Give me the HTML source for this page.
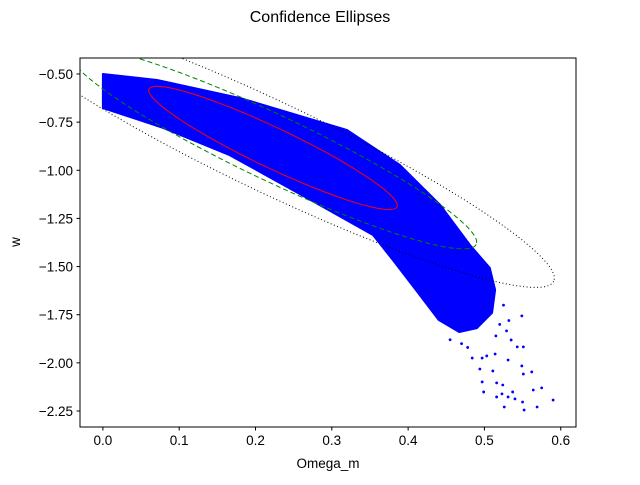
<!DOCTYPE html>
<html><head><meta charset="utf-8"><style>
html,body{margin:0;padding:0;background:#fff;}
svg text{font-family:"Liberation Sans","DejaVu Sans",sans-serif;}
</style></head><body>
<svg id="chart" width="640" height="480" xmlns="http://www.w3.org/2000/svg">
<defs><clipPath id="clip"><rect x="80" y="58" width="496" height="369"/></clipPath></defs>
<text x="320" y="22" text-anchor="middle" font-size="16">Confidence Ellipses</text>
<g id="plot" clip-path="url(#clip)"></g>
<rect x="80" y="58" width="496" height="369" fill="none" stroke="#000" stroke-width="1"/>
<g id="xticks"></g>
<g id="yticks"></g>
<text x="328" y="468" text-anchor="middle" font-size="13.5">Omega_m</text>
<text x="0" y="0" transform="translate(20,242) rotate(-90)" text-anchor="middle" font-size="13.5">w</text>
</svg>
<script>
const xTicks=[0.0,0.1,0.2,0.3,0.4,0.5,0.6];
const xTickLabels=["0.0","0.1","0.2","0.3","0.4","0.5","0.6"];
const yTicks=[-0.5,-0.75,-1.0,-1.25,-1.5,-1.75,-2.0,-2.25];
const yTickLabels=["−0.50","−0.75","−1.00","−1.25","−1.50","−1.75","−2.00","−2.25"];
const cloudX=[0,0.071,0.180,0.320,0.389,0.442,0.481,0.507,0.514,0.510,0.490,0.467,0.440,0.413,0.380,0.354,0.284,0.166,0.079,0];
const cloudY=[-0.5,-0.531,-0.625,-0.791,-0.972,-1.18,-1.388,-1.507,-1.621,-1.74,-1.82,-1.84,-1.777,-1.636,-1.466,-1.336,-1.180,-0.921,-0.780,-0.677];
const sparseX=[0.531,0.549,0.551,0.562,0.516,0.524,0.537,0.523,0.516,0.531,0.540,0.550,0.552,0.526,0.499,0.497,0.494,0.511,0.564,0.575,0.590,0.569,0.549,0.551,0.543,0.514,0.503,0.484,0.497,0.535,0.529,0.520,0.525,0.455,0.470,0.532,0.515,0.478];
const sparseY=[-1.985,-2.016,-2.058,-2.047,-2.104,-2.115,-2.151,-2.161,-2.177,-2.177,-2.187,-2.203,-2.245,-2.229,-2.151,-2.099,-2.032,-2.042,-2.141,-2.130,-2.193,-2.229,-1.756,-1.917,-1.917,-1.954,-1.964,-1.975,-1.975,-1.881,-1.834,-1.80,-1.70,-1.88,-1.90,-1.78,-1.86,-1.92];
const ellCenter=[0.223,-0.884];
const ellMajor=[0.1069,-0.2013];
const ellMinor=[-0.0074,-0.0618];
const ellScales=[1.52,2.49,3.44];
const ellColors=["red","green","black"];
const ellDash=["none","5,3","1,2.5"];

const X0=-0.030,X1=0.620,Y0=-2.333,Y1=-0.417;
const px=v=>80+(v-X0)/(X1-X0)*496;
const py=v=>58+(Y1-v)/(Y1-Y0)*369;
const NS="http://www.w3.org/2000/svg";
const plot=document.getElementById('plot');
function mk(t,a,p){const e=document.createElementNS(NS,t);for(const k in a)e.setAttribute(k,a[k]);p.appendChild(e);return e;}

const cloud=mk('polygon',{points:cloudX.map((x,i)=>px(x)+','+py(cloudY[i])).join(' '),fill:'blue',stroke:'blue','stroke-width':2,'stroke-linejoin':'round'},plot);


sparseX.forEach((x,i)=>{
  const c=mk('circle',{cx:px(x),cy:py(sparseY[i]),r:1.4,fill:'blue'},plot);
  
  
});
ellScales.forEach((s,k)=>{
  let pts=[];
  for(let i=0;i<=180;i++){const t=i/180*2*Math.PI;
    const x=ellCenter[0]+s*(ellMajor[0]*Math.cos(t)+ellMinor[0]*Math.sin(t));
    const y=ellCenter[1]+s*(ellMajor[1]*Math.cos(t)+ellMinor[1]*Math.sin(t));
    pts.push(px(x).toFixed(1)+','+py(y).toFixed(1));}
  const e=mk('polygon',{points:pts.join(' '),fill:'none',stroke:ellColors[k],'stroke-width':1,'stroke-dasharray':ellDash[k]},plot);
  
  
});
const xg=document.getElementById('xticks');
xTicks.forEach((v,i)=>{
  const l=mk('line',{x1:px(v),x2:px(v),y1:427,y2:430.5,stroke:'#000'},xg);
  
  
  const t=mk('text',{x:px(v),y:445,'text-anchor':'middle','font-size':13.5},xg);
  t.textContent=xTickLabels[i];
  
  
});
const yg=document.getElementById('yticks');
yTicks.forEach((v,i)=>{
  const l=mk('line',{x1:76.5,x2:80,y1:py(v),y2:py(v),stroke:'#000'},yg);
  
  
  const t=mk('text',{x:73,y:py(v)+5,'text-anchor':'end','font-size':13.5},yg);
  t.textContent=yTickLabels[i];
  
  
});
</script>
</body></html>
